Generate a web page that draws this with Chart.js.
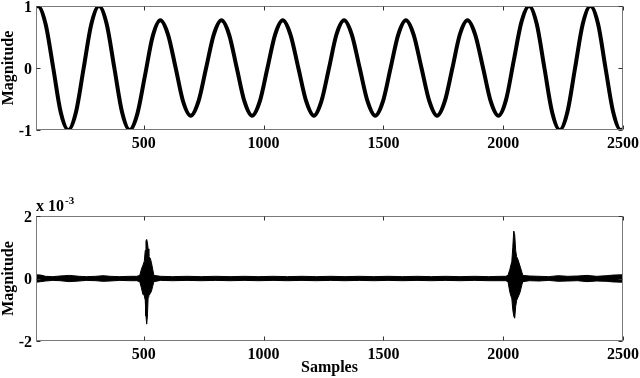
<!DOCTYPE html>
<html>
<head>
<meta charset="utf-8">
<script src="https://cdn.jsdelivr.net/npm/chart.js@4.4.1/dist/chart.umd.min.js"></script>
<style>
  html, body { margin: 0; padding: 0; background: #fff; }
  #wrap { position: relative; width: 640px; height: 378px; overflow: hidden; }
  canvas { position: absolute; left: 0; }
  #c1 { top: 0; }
  #c2 { top: 160px; }
</style>
</head>
<body>
<div id="wrap">
  <canvas id="c1" width="640" height="160"></canvas>
  <canvas id="c2" width="640" height="218"></canvas>
</div>
<script>
// ---------- data ----------
const xTicks = [500, 1000, 1500, 2000, 2500];
const topYTicks = [-1, 0, 1];
const botYTicks = [-2, 0, 2];            // in units of 10^-3

// top panel: signal
const topSamples = [50,58,90,122,153,185,217,249,281,313,345,377,409,441,473,505,537,569,
  601,633,664,696,728,760,792,824,856,888,920,952,984,1016,1048,1080,1112,1145,1178,1210,
  1241,1273,1304,1336,1368,1401,1434,1466,1498,1530,1562,1594,1626,1659,1692,1724,1756,1788,
  1819,1851,1883,1916,1948,1980,2012,2044,2076,2108,2140,2172,2204,2236,2268,2300,2332,2364,
  2396,2427,2459,2490,2500];
const topMagnitude = [0.99,1,0.71,0,-0.71,-1,-0.71,0,0.71,1,0.71,0,-0.71,-1,-0.74,-0.12,0.51,0.77,
  0.54,0,-0.54,-0.77,-0.54,0,0.54,0.77,0.54,0,-0.54,-0.77,-0.54,0,0.54,0.77,0.54,0,-0.54,-0.77,
  -0.54,0,0.54,0.77,0.54,0,-0.54,-0.77,-0.54,0,0.54,0.77,0.54,0,-0.54,-0.77,-0.54,0,
  0.54,0.77,0.54,0,-0.54,-0.77,-0.51,0.12,0.74,1,0.71,0,-0.71,-1,-0.71,0,0.71,1,
  0.71,0,-0.71,-1,-0.99];

// bottom panel: residual envelope (units of 10^-3)
const botSamples = [50,70,90,120,150,190,230,260,300,330,360,400,440,470,
  483,490,496,502,506,509,512,515,518,521,527,532,537,542,
  570,620,680,740,800,860,920,980,1040,1100,1160,1220,1280,1340,1400,1460,1520,1580,1640,1700,1760,1820,1880,1940,1990,2010,
  2020,2028,2036,2040,2044,2048,2052,2056,2062,2070,2078,2082,
  2110,2150,2190,2230,2270,2310,2350,2390,2430,2460,2500];
const botUpper = [0.12,0.11,0.07,0.06,0.08,0.10,0.07,0.06,0.07,0.09,0.07,0.06,0.07,0.07,
  0.10,0.30,0.42,0.55,0.90,1.20,1.25,1.15,0.95,0.70,0.65,0.50,0.30,0.10,
  0.07,0.06,0.07,0.06,0.07,0.06,0.07,0.06,0.07,0.06,0.07,0.06,0.07,0.06,0.07,0.06,0.07,0.06,0.07,0.06,0.07,0.06,0.07,0.06,0.07,0.07,
  0.10,0.30,0.55,1.00,1.52,1.40,0.90,0.70,0.60,0.40,0.20,0.10,
  0.08,0.07,0.06,0.09,0.07,0.08,0.10,0.07,0.09,0.11,0.12];
const botLower = [-0.12,-0.10,-0.08,-0.06,-0.07,-0.10,-0.08,-0.06,-0.07,-0.09,-0.08,-0.06,-0.07,-0.07,
  -0.10,-0.30,-0.50,-0.55,-0.70,-1.20,-1.46,-1.20,-0.60,-0.55,-0.48,-0.40,-0.25,-0.10,
  -0.06,-0.07,-0.06,-0.07,-0.06,-0.07,-0.06,-0.07,-0.06,-0.07,-0.06,-0.07,-0.06,-0.07,-0.06,-0.07,-0.06,-0.07,-0.06,-0.07,-0.06,-0.07,-0.06,-0.07,-0.07,-0.07,
  -0.10,-0.45,-0.65,-1.00,-1.20,-1.27,-0.90,-0.70,-0.60,-0.45,-0.20,-0.10,
  -0.07,-0.08,-0.06,-0.09,-0.08,-0.07,-0.10,-0.08,-0.09,-0.11,-0.12];

// ---------- rendering ----------
const FONT = "'Liberation Serif', 'Times New Roman', serif";
Chart.defaults.font.family = FONT;
Chart.defaults.font.size = 16;
Chart.defaults.font.weight = 'bold';
Chart.defaults.color = '#000';

const boxPlugin = {
  id: 'matlabBox',
  afterDraw(chart, args, opts) {
    const { ctx, chartArea: a, scales } = chart;
    ctx.save();
    ctx.strokeStyle = '#7a7a7a';
    ctx.lineWidth = 1;
    const L = Math.round(a.left) + 0.5, R = Math.round(a.right) - 0.5;
    const T = Math.round(a.top) + 0.5, B = Math.round(a.bottom) - 0.5;
    ctx.strokeRect(L, T, R - L, B - T);
    ctx.strokeStyle = '#333';
    ctx.beginPath();
    scales.x.ticks.forEach(t => {
      const px = Math.round(scales.x.getPixelForValue(t.value)) + 0.5;
      ctx.moveTo(px, B); ctx.lineTo(px, B - 4);
      ctx.moveTo(px, T); ctx.lineTo(px, T + 4);
    });
    scales.y.ticks.forEach(t => {
      const py = Math.round(scales.y.getPixelForValue(t.value)) + 0.5;
      ctx.moveTo(L, py); ctx.lineTo(L + 4, py);
      ctx.moveTo(R, py); ctx.lineTo(R - 4, py);
    });
    ctx.stroke();

    // tick labels
    ctx.fillStyle = '#000';
    ctx.font = 'bold 16px ' + FONT;
    ctx.textBaseline = 'alphabetic';
    ctx.textAlign = 'center';
    scales.x.ticks.forEach(t => {
      ctx.fillText(String(t.value), scales.x.getPixelForValue(t.value), a.bottom + 18);
    });
    ctx.textAlign = 'right';
    scales.y.ticks.forEach(t => {
      ctx.fillText(String(t.value), a.left - 4, scales.y.getPixelForValue(t.value) + 5.5);
    });

    // y title
    ctx.textAlign = 'center';
    ctx.textBaseline = 'middle';
    ctx.save();
    ctx.translate(9, (a.top + a.bottom) / 2);
    ctx.rotate(-Math.PI / 2);
    ctx.fillText('Magnitude', 0, 0);
    ctx.restore();
    if (opts.exponent) {
      ctx.textAlign = 'left';
      ctx.textBaseline = 'alphabetic';
      ctx.font = 'bold 16px ' + FONT;
      ctx.fillText('x 10', a.left, a.top - 5);
      const w = ctx.measureText('x 10').width;
      ctx.font = 'bold 11px ' + FONT;
      ctx.fillText('-3', a.left + w + 1, a.top - 12);
    }
    if (opts.xTitle) {
      ctx.textAlign = 'center';
      ctx.textBaseline = 'middle';
      ctx.font = 'bold 16px ' + FONT;
      ctx.fillText(opts.xTitle, (a.left + a.right) / 2, a.bottom + 27);
    }
    ctx.restore();
  }
};

function scalesFor(yTicks, yMin, yMax, xHeight) {
  return {
    x: {
      type: 'linear', min: 50, max: 2500,
      grid: { display: false, drawTicks: false },
      border: { display: false },
      ticks: { display: false, autoSkip: false, maxRotation: 0 },
      afterBuildTicks: s => { s.ticks = xTicks.map(v => ({ value: v })); },
      afterFit: s => { s.height = xHeight; }
    },
    y: {
      type: 'linear', min: yMin, max: yMax,
      grid: { display: false, drawTicks: false },
      border: { display: false },
      ticks: { display: false, autoSkip: false },
      afterBuildTicks: s => { s.ticks = yTicks.map(v => ({ value: v })); },
      afterFit: s => { s.width = 36; }
    }
  };
}

new Chart(document.getElementById('c1'), {
  type: 'line',
  data: {
    datasets: [{
      data: topSamples.map((x, i) => ({ x, y: topMagnitude[i] })),
      borderColor: '#000', borderWidth: 4, pointRadius: 0,
      cubicInterpolationMode: 'monotone', fill: false, clip: 0
    }]
  },
  options: {
    responsive: false, animation: false,
    layout: { padding: { top: 6, right: 17, left: 0, bottom: 0 } },
    plugins: { legend: { display: false }, tooltip: { enabled: false }, matlabBox: {} },
    scales: scalesFor(topYTicks, -1, 1, 30)
  },
  plugins: [boxPlugin]
});

new Chart(document.getElementById('c2'), {
  type: 'line',
  data: {
    datasets: [{
      data: botSamples.map((x, i) => ({ x, y: botUpper[i] })),
      borderColor: '#000', backgroundColor: '#000', borderWidth: 1, pointRadius: 0,
      tension: 0, fill: '+1', clip: 0
    }, {
      data: botSamples.map((x, i) => ({ x, y: botLower[i] })),
      borderColor: '#000', borderWidth: 1, pointRadius: 0,
      tension: 0, fill: false, clip: 0
    }]
  },
  options: {
    responsive: false, animation: false,
    layout: { padding: { top: 56, right: 17, left: 0, bottom: 0 } },
    plugins: { legend: { display: false }, tooltip: { enabled: false }, filler: { propagate: false },
      matlabBox: { exponent: true, xTitle: 'Samples' } },
    scales: scalesFor(botYTicks, -2, 2, 37)
  },
  plugins: [boxPlugin]
});
</script>
</body>
</html>
